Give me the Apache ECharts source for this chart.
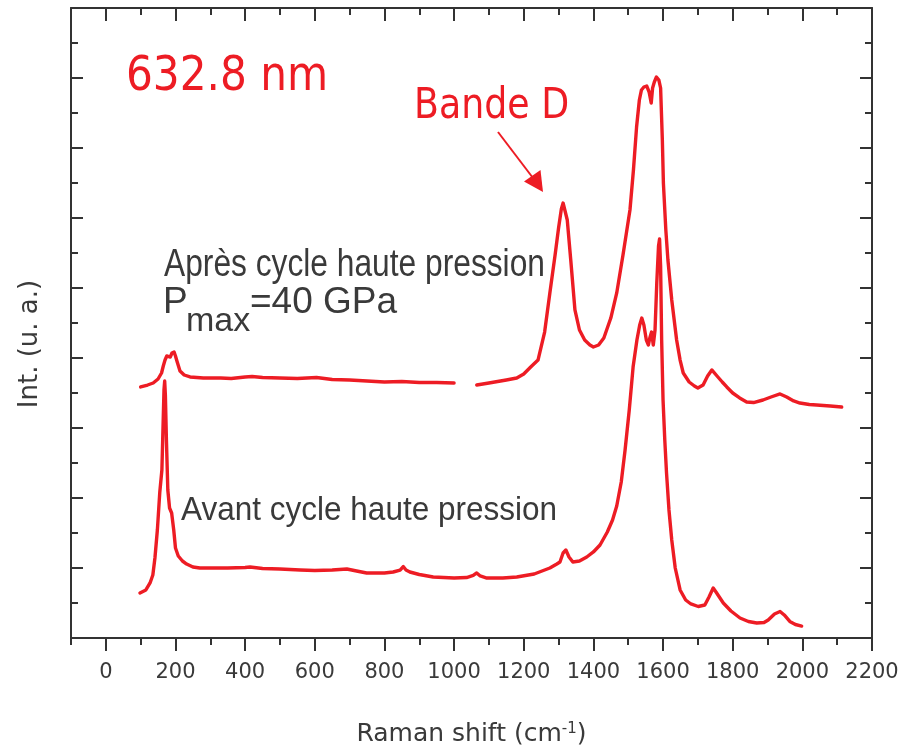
<!DOCTYPE html>
<html><head><meta charset="utf-8">
<script src="https://cdn.jsdelivr.net/npm/echarts@6/dist/echarts.min.js"></script>
<style>html,body{margin:0;padding:0;background:#fff}#c{width:902px;height:754px}</style>
</head><body><div id="c"></div>
<script>
// Raman shift (cm-1) and intensity (arbitrary units)
const afterShift = [100,120,136,150,160,165,170,175,180,185,190,196,200,205,213,225,242,280,330,360,400,420,450,500,550,605,650,700,750,800,850,900,950,1000,1030,1065,1100,1150,1180,1200,1220,1241,1260,1275,1290,1300,1308,1313,1318,1325,1335,1347,1360,1375,1390,1400,1415,1430,1450,1467,1485,1505,1515,1524,1532,1538,1545,1553,1560,1566,1570,1575,1581,1588,1593,1598,1601,1608,1614,1625,1639,1649,1658,1675,1690,1700,1715,1728,1740,1755,1770,1783,1800,1820,1840,1860,1887,1910,1936,1955,1975,1993,2020,2041,2080,2113];
const afterInt = [3.586,3.614,3.643,3.700,3.786,3.886,3.971,4.029,4.043,4.014,4.071,4.086,4.029,3.943,3.814,3.757,3.729,3.714,3.714,3.707,3.729,3.736,3.721,3.714,3.707,3.721,3.693,3.686,3.671,3.657,3.664,3.650,3.650,3.643,null,3.614,3.643,3.686,3.714,3.771,3.871,3.971,4.371,4.929,5.471,5.857,6.129,6.214,6.186,5.971,5.400,4.686,4.400,4.257,4.186,4.157,4.186,4.286,4.571,4.929,5.471,6.114,6.686,7.300,7.686,7.829,7.871,7.886,7.800,7.643,7.857,7.943,8.014,7.971,7.857,7.114,6.500,5.829,5.400,4.829,4.257,3.971,3.786,3.657,3.600,3.571,3.614,3.743,3.829,3.743,3.657,3.586,3.500,3.429,3.371,3.364,3.400,3.443,3.486,3.443,3.386,3.357,3.336,3.329,3.314,3.300];

const beforeShift = [98,115,127,135,141,148,155,158,161,164,167,169,171,174,178,183,189,195,200,208,220,232,250,270,300,350,400,414,450,500,558,600,650,692,720,749,800,825,845,854,862,873,900,940,1000,1036,1055,1065,1075,1094,1140,1180,1230,1275,1295,1304,1313,1321,1330,1341,1360,1381,1400,1419,1440,1455,1467,1480,1491,1503,1514,1525,1533,1539,1545,1552,1558,1562,1567,1572,1577,1582,1587,1590,1593,1596,1600,1605,1610,1617,1625,1635,1649,1665,1680,1701,1720,1732,1744,1752,1773,1795,1821,1845,1869,1890,1902,1920,1936,1948,1964,1980,1998];
const beforeInt = [0.643,0.686,0.786,0.900,1.143,1.543,2.086,2.114,2.400,2.971,3.543,3.671,3.471,2.829,2.114,1.857,1.786,1.543,1.286,1.171,1.100,1.057,1.014,1.000,1.000,1.000,1.007,1.014,0.993,0.986,0.971,0.964,0.971,0.986,0.957,0.929,0.929,0.943,0.971,1.021,0.971,0.943,0.907,0.871,0.857,0.864,0.893,0.929,0.886,0.857,0.857,0.871,0.914,1.000,1.057,1.086,1.214,1.257,1.157,1.086,1.100,1.157,1.229,1.329,1.514,1.686,1.886,2.229,2.686,3.257,3.871,4.257,4.471,4.571,4.471,4.257,4.186,4.286,4.371,4.186,4.400,5.071,5.600,5.700,5.314,4.257,3.400,2.829,2.357,1.829,1.400,1.000,0.686,0.543,0.486,0.450,0.471,0.586,0.714,0.657,0.500,0.386,0.286,0.236,0.214,0.221,0.257,0.343,0.379,0.329,0.236,0.193,0.171];

const majorXTicks = [0,200,400,600,800,1000,1200,1400,1600,1800,2000,2200];

const RED = '#ed1c24';
const INK = '#333333';
const TXT = '#3a3a3a';

const afterData = afterShift.map((x, i) => [x, afterInt[i]]);
const beforeData = beforeShift.map((x, i) => [x, beforeInt[i]]);

const chart = echarts.init(document.getElementById('c'), null, {renderer: 'canvas'});

const axisLine = {show: true, onZero: false, lineStyle: {color: INK, width: 2}};
const noLine = {show: false, onZero: false};
const tickStyle = {color: INK, width: 2};

const option = {
  animation: false,
  backgroundColor: '#ffffff',
  grid: {left: 71, right: 30, top: 8, bottom: 116, containLabel: false, outerBoundsMode: 'none'},
  xAxis: [
    {
      type: 'value', position: 'bottom', min: -100, max: 2200, interval: 100,
      axisLine: axisLine,
      axisTick: {show: true, inside: false, length: 7, lineStyle: tickStyle},
      axisLabel: {
        show: true, margin: 24, fontSize: 21, color: TXT, fontFamily: '"DejaVu Sans"',
        formatter: v => (v >= 0 && v % 200 === 0) ? String(v) : ''
      },
      splitLine: {show: false},
      name: '{a|Raman shift (cm}{b|-1}{a|)}',
      nameLocation: 'middle', nameGap: 84,
      nameTextStyle: {
        rich: {
          a: {fontSize: 25, fontFamily: '"DejaVu Sans"', color: TXT, lineHeight: 25, verticalAlign: 'bottom'},
          b: {fontSize: 15, fontFamily: '"DejaVu Sans"', color: TXT, lineHeight: 15, verticalAlign: 'top', padding: [0, 0, 18, 0]}
        }
      }
    },
    {
      type: 'value', position: 'bottom', min: -100, max: 2200,
      axisLine: noLine,
      axisTick: {show: true, inside: false, length: 13, lineStyle: tickStyle, customValues: majorXTicks},
      axisLabel: {show: false, customValues: majorXTicks},
      splitLine: {show: false}
    },
    {
      type: 'value', position: 'top', min: -100, max: 2200, interval: 100,
      axisLine: axisLine,
      axisTick: {show: true, inside: true, length: 7, lineStyle: tickStyle},
      axisLabel: {show: false},
      splitLine: {show: false}
    },
    {
      type: 'value', position: 'top', min: -100, max: 2200,
      axisLine: noLine,
      axisTick: {show: true, inside: true, length: 13, lineStyle: tickStyle, customValues: majorXTicks},
      axisLabel: {show: false, customValues: majorXTicks},
      splitLine: {show: false}
    }
  ],
  yAxis: [
    {
      type: 'value', position: 'left', min: 0, max: 9, interval: 1,
      axisLine: axisLine,
      axisTick: {show: true, inside: true, length: 12, lineStyle: tickStyle},
      minorTick: {show: true, splitNumber: 2, length: 7, lineStyle: tickStyle},
      axisLabel: {show: false},
      splitLine: {show: false}, minorSplitLine: {show: false},
      name: 'Int. (u. a.)', nameLocation: 'middle', nameGap: 28,
      nameTextStyle: {fontSize: 26, fontFamily: '"DejaVu Sans"', color: TXT, padding: [0, 42, 0, 0]}
    },
    {
      type: 'value', position: 'right', min: 0, max: 9, interval: 1,
      axisLine: axisLine,
      axisTick: {show: true, inside: true, length: 12, lineStyle: tickStyle},
      minorTick: {show: true, splitNumber: 2, length: 7, lineStyle: tickStyle},
      axisLabel: {show: false},
      splitLine: {show: false}, minorSplitLine: {show: false}
    }
  ],
  series: [
    {
      name: 'Après cycle haute pression', type: 'line', xAxisIndex: 0, yAxisIndex: 0,
      data: afterData, showSymbol: false, symbol: 'none', connectNulls: false, smooth: false,
      lineStyle: {color: RED, width: 3.4, join: 'round', cap: 'round'}
    },
    {
      name: 'Avant cycle haute pression', type: 'line', xAxisIndex: 0, yAxisIndex: 0,
      data: beforeData, showSymbol: false, symbol: 'none', smooth: false,
      lineStyle: {color: RED, width: 3.4, join: 'round', cap: 'round'}
    }
  ],
  graphic: [
    {type: 'text', x: 126, y: 78, scaleX: 0.88,
     style: {text: '632.8 nm', fill: RED, fontSize: 48, fontFamily: '"DejaVu Sans"', align: 'left', verticalAlign: 'middle'}},
    {type: 'text', x: 414, y: 107, scaleX: 0.865,
     style: {text: 'Bande D', fill: RED, fontSize: 42, fontFamily: '"DejaVu Sans"', align: 'left', verticalAlign: 'middle'}},
    {type: 'line', shape: {x1: 498, y1: 132, x2: 533, y2: 178}, style: {stroke: RED, lineWidth: 2}},
    {type: 'polygon', shape: {points: [[543, 192], [524, 181.5], [540.5, 170]]}, style: {fill: RED}},
    {type: 'text', x: 164, y: 266, scaleX: 0.835,
     style: {text: 'Après cycle haute pression', fill: TXT, fontSize: 38, fontFamily: '"Liberation Sans"', align: 'left', verticalAlign: 'middle'}},
    {type: 'text', x: 163, y: 303,
     style: {text: 'P', fill: TXT, fontSize: 37, fontFamily: '"Liberation Sans"', align: 'left', verticalAlign: 'middle'}},
    {type: 'text', x: 186, y: 322,
     style: {text: 'max', fill: TXT, fontSize: 34, fontFamily: '"Liberation Sans"', align: 'left', verticalAlign: 'middle'}},
    {type: 'text', x: 250, y: 303,
     style: {text: '=40 GPa', fill: TXT, fontSize: 37, fontFamily: '"Liberation Sans"', align: 'left', verticalAlign: 'middle'}},
    {type: 'text', x: 181, y: 511, scaleX: 0.955,
     style: {text: 'Avant cycle haute pression', fill: TXT, fontSize: 33, fontFamily: '"Liberation Sans"', align: 'left', verticalAlign: 'middle'}}
  ]
};
chart.setOption(option);
</script>
</body></html>
